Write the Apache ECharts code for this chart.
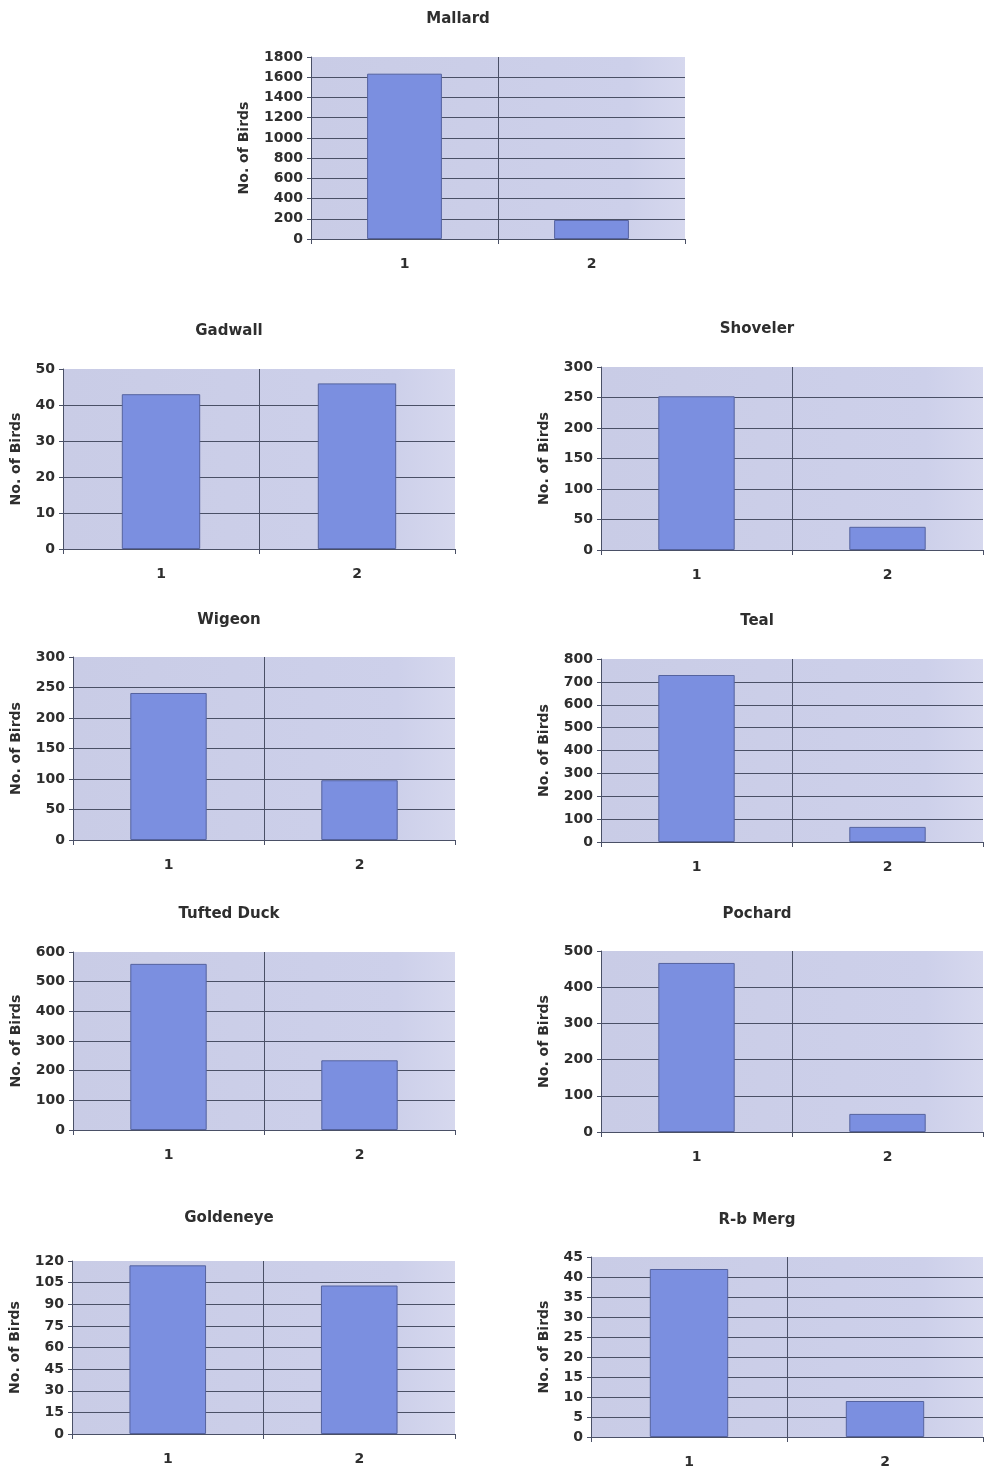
<!DOCTYPE html>
<html>
<head>
<meta charset="utf-8">
<script src="https://cdn.jsdelivr.net/npm/echarts@6/dist/echarts.min.js"></script>
<style>
html,body{margin:0;padding:0;background:#ffffff;}
#chart{width:986px;height:1472px;}
</style>
</head>
<body>
<div id="chart"></div>
<script>
// ---- data ----
const categories = ['1', '2'];
const titles = ['Mallard', 'Gadwall', 'Shoveler', 'Wigeon', 'Teal', 'Tufted Duck', 'Pochard', 'Goldeneye', 'R-b Merg'];
const mallard = [1635, 188];
const gadwall = [43, 46];
const shoveler = [252, 38];
const wigeon = [241, 98];
const teal = [730, 66];
const tuftedDuck = [560, 235];
const pochard = [467, 50];
const goldeneye = [117, 103];
const rbMerg = [42, 9];
const axisMax = [1800, 50, 300, 300, 800, 600, 500, 120, 45];
const axisStep = [200, 10, 50, 50, 100, 100, 100, 15, 5];
const yAxisName = 'No. of Birds';

const seriesValues = [mallard, gadwall, shoveler, wigeon, teal, tuftedDuck, pochard, goldeneye, rbMerg];

// ---- layout (pixels) ----
const grids = [
  {left: 311, top: 57, width: 374, height: 182, nameGap: 60},
  {left: 63, top: 369, width: 392, height: 180, nameGap: 40},
  {left: 601, top: 367, width: 382, height: 183, nameGap: 50},
  {left: 73, top: 657, width: 382, height: 183, nameGap: 50},
  {left: 601, top: 659, width: 382, height: 183, nameGap: 50},
  {left: 73, top: 952, width: 382, height: 178, nameGap: 50},
  {left: 601, top: 951, width: 382, height: 181, nameGap: 50},
  {left: 72, top: 1261, width: 383, height: 173, nameGap: 50},
  {left: 591, top: 1257, width: 392, height: 180, nameGap: 40}
];
const titlePos = [
  [458, 17], [229, 329], [757, 327], [229, 618], [757, 619],
  [229, 912], [757, 912], [229, 1216], [757, 1218]
];

const FONT = '"DejaVu Sans", sans-serif';
const TEXT = '#2e2e2e';
const GRIDLINE = '#4a5066';

const chart = echarts.init(document.getElementById('chart'), null, {renderer: 'canvas'});

const option = {
  backgroundColor: '#ffffff',
  animation: false,
  title: titles.map((t, i) => ({
    text: t,
    left: titlePos[i][0] - 5,
    top: titlePos[i][1] - 10,
    textAlign: 'center',
    textStyle: {fontFamily: FONT, fontSize: 15, fontWeight: 'bold', color: TEXT}
  })),
  grid: grids.map(g => ({
    left: g.left, top: g.top, width: g.width, height: g.height,
    show: true,
    backgroundColor: new echarts.graphic.LinearGradient(0, 0, 1, 0, [
      {offset: 0, color: '#c9cce6'},
      {offset: 0.85, color: '#cdd0ea'},
      {offset: 1, color: '#d6d8ee'}
    ]),
    borderWidth: 0
  })),
  xAxis: grids.map((g, i) => ({
    type: 'category',
    gridIndex: i,
    data: categories,
    boundaryGap: true,
    axisLine: {show: true, lineStyle: {color: GRIDLINE, width: 1}},
    axisTick: {show: true, length: 5, lineStyle: {color: GRIDLINE}},
    axisLabel: {fontFamily: FONT, fontSize: 14, fontWeight: 'bold', color: TEXT, margin: 18},
    splitLine: {show: true, showMinLine: false, showMaxLine: false, lineStyle: {color: GRIDLINE, width: 1}}
  })),
  yAxis: grids.map((g, i) => ({
    type: 'value',
    gridIndex: i,
    min: 0,
    max: axisMax[i],
    interval: axisStep[i],
    name: yAxisName,
    nameLocation: 'middle',
    nameGap: g.nameGap,
    nameRotate: 90,
    nameTextStyle: {fontFamily: FONT, fontSize: 14, fontWeight: 'bold', color: TEXT},
    axisLine: {show: true, lineStyle: {color: GRIDLINE, width: 1}},
    axisTick: {show: true, length: 4, lineStyle: {color: GRIDLINE}},
    axisLabel: {fontFamily: FONT, fontSize: 14, fontWeight: 'bold', color: TEXT, margin: 8,
      formatter: v => String(v)},
    splitLine: {show: true, showMaxLine: false, lineStyle: {color: GRIDLINE, width: 1}}
  })),
  series: seriesValues.map((vals, i) => ({
    type: 'bar',
    name: titles[i],
    xAxisIndex: i,
    yAxisIndex: i,
    data: vals,
    barCategoryGap: '60%',
    itemStyle: {color: '#7b8fe0', borderColor: '#55639f', borderWidth: 1}
  }))
};

chart.setOption(option);
</script>
</body>
</html>
